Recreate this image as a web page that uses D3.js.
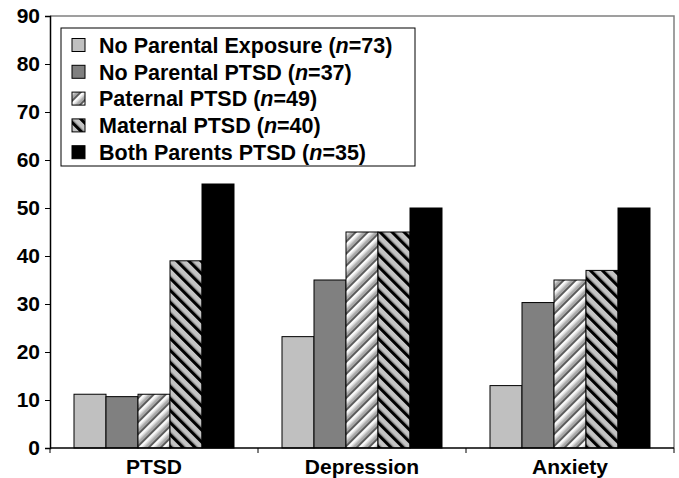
<!DOCTYPE html>
<html>
<head>
<meta charset="utf-8">
<script src="https://cdn.jsdelivr.net/npm/d3@7"></script>
<style>
  body { margin: 0; background: #fff; }
  svg text { font-family: "Liberation Sans", Arial, sans-serif; font-weight: bold; }
</style>
</head>
<body>
<svg id="chart" width="679" height="478"></svg>
<script>
// chart data
var categories = ["PTSD", "Depression", "Anxiety"];
var groups = ["No Parental Exposure", "No Parental PTSD", "Paternal PTSD", "Maternal PTSD", "Both Parents PTSD"];
var groupN = [73, 37, 49, 40, 35];
var values = [
  [11.2, 23.2, 13.0],   // No Parental Exposure
  [10.7, 35.0, 30.3],   // No Parental PTSD
  [11.2, 45.0, 35.0],   // Paternal PTSD
  [39.0, 45.0, 37.0],   // Maternal PTSD
  [55.0, 50.0, 50.0]    // Both Parents PTSD
];
var yTicks = [0, 10, 20, 30, 40, 50, 60, 70, 80, 90];

var W = 679, H = 478;
var margin = {top: 16, right: 5, bottom: 30, left: 50};
var innerW = W - margin.left - margin.right;
var innerH = H - margin.top - margin.bottom;

var svg = d3.select("#chart");
var defs = svg.append("defs");

// paternal: grey with white "/" stripes
var pat = defs.append("pattern")
  .attr("id", "paternal")
  .attr("patternUnits", "userSpaceOnUse")
  .attr("width", 8.5).attr("height", 8.5)
  .attr("patternTransform", "rotate(45)");
pat.append("rect").attr("width", 8.5).attr("height", 8.5).attr("fill", "#a8a8a8");
pat.append("rect").attr("x", 0).attr("width", 2).attr("height", 8.5).attr("fill", "#5a5a5a");
pat.append("rect").attr("x", 2).attr("width", 2.5).attr("height", 8.5).attr("fill", "#ffffff");
pat.append("rect").attr("x", 4.5).attr("width", 1.5).attr("height", 8.5).attr("fill", "#d8d8d8");

// maternal: light grey with black "\" stripes
var mat = defs.append("pattern")
  .attr("id", "maternal")
  .attr("patternUnits", "userSpaceOnUse")
  .attr("width", 8.5).attr("height", 8.5)
  .attr("patternTransform", "rotate(-45)");
mat.append("rect").attr("width", 8.5).attr("height", 8.5).attr("fill", "#c4c4c4");
mat.append("rect").attr("x", 0).attr("width", 3).attr("height", 8.5).attr("fill", "#000000");
mat.append("rect").attr("x", 3).attr("width", 1).attr("height", 8.5).attr("fill", "#777777");

var fills = ["#c0c0c0", "#808080", "url(#paternal)", "url(#maternal)", "#000000"];

var g = svg.append("g").attr("transform", "translate(" + margin.left + "," + margin.top + ")");

var x0 = d3.scaleBand().domain(categories).range([0, innerW]).padding(0);
var x1 = d3.scaleBand().domain(d3.range(groups.length))
  .range([24, x0.bandwidth() - 24]).padding(0);
var y = d3.scaleLinear().domain([0, 90]).range([innerH, 0]);

// plot frame (top and right)
g.append("path")
  .attr("d", "M0,0H" + innerW + "V" + innerH)
  .attr("fill", "none").attr("stroke", "#808080").attr("stroke-width", 1.5);

// bars
var cat = g.selectAll("g.cat").data(categories).enter().append("g")
  .attr("class", "cat")
  .attr("transform", function(d){ return "translate(" + x0(d) + ",0)"; });

cat.selectAll("rect").data(function(d, ci){
    return groups.map(function(s, si){ return {si: si, v: values[si][ci]}; });
  }).enter().append("rect")
  .attr("x", function(d){ return x1(d.si); })
  .attr("width", x1.bandwidth())
  .attr("y", function(d){ return y(d.v); })
  .attr("height", function(d){ return innerH - y(d.v); })
  .attr("fill", function(d){ return fills[d.si]; })
  .attr("stroke", "#000").attr("stroke-width", 1);

// y axis
var yAxis = g.append("g").call(d3.axisLeft(y).tickValues(yTicks).tickSize(5).tickPadding(5));
yAxis.select(".domain").attr("stroke-width", 1.5);
yAxis.selectAll("text").attr("font-size", 21).attr("fill", "#000");

// x axis, ticks at category boundaries
var xAxis = g.append("g").attr("transform", "translate(0," + innerH + ")");
xAxis.append("line").attr("x1", 0).attr("x2", innerW).attr("stroke", "#000").attr("stroke-width", 1.5);
xAxis.selectAll("line.tk").data(categories.concat([null])).enter().append("line")
  .attr("class", "tk")
  .attr("x1", function(d, i){ return i * x0.bandwidth(); })
  .attr("x2", function(d, i){ return i * x0.bandwidth(); })
  .attr("y1", 0).attr("y2", 5).attr("stroke", "#000");
xAxis.selectAll("text").data(categories).enter().append("text")
  .attr("x", function(d){ return x0(d) + x0.bandwidth() / 2; })
  .attr("y", 26)
  .attr("text-anchor", "middle")
  .attr("font-size", 21)
  .text(function(d){ return d; });

// legend
var legend = svg.append("g").attr("transform", "translate(61,28)");
legend.append("rect").attr("width", 354).attr("height", 138)
  .attr("fill", "#fff").attr("stroke", "#000").attr("stroke-width", 1);

var item = legend.selectAll("g.item").data(groups).enter().append("g")
  .attr("class", "item")
  .attr("transform", function(d, i){ return "translate(0," + (17 + i * 26.8) + ")"; });
item.append("rect")
  .attr("x", 11).attr("y", -6.5).attr("width", 13).attr("height", 13)
  .attr("fill", function(d, i){ return fills[i]; })
  .attr("stroke", "#000").attr("stroke-width", 1);
var txt = item.append("text")
  .attr("x", 38).attr("y", 7.8)
  .attr("font-size", 21.5);
txt.append("tspan").text(function(d){ return d + " ("; });
txt.append("tspan").attr("font-style", "italic").text("n");
txt.append("tspan").text(function(d, i){ return "=" + groupN[i] + ")"; });
</script>
</body>
</html>
